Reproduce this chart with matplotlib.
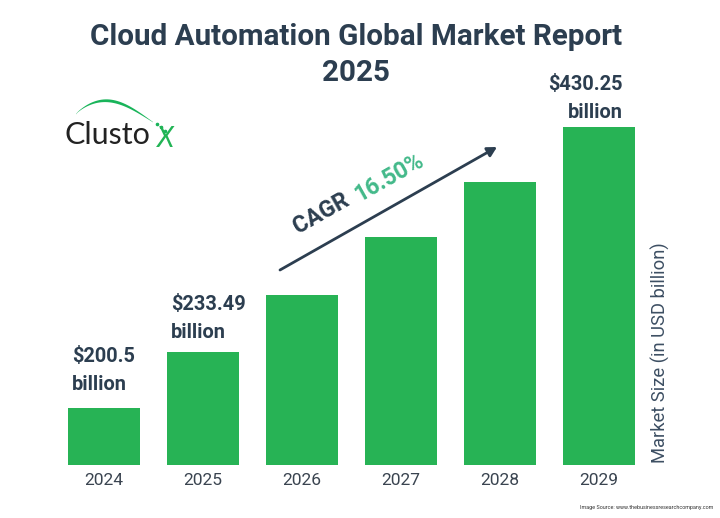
import numpy as np
import matplotlib
matplotlib.use("Agg")
import matplotlib.pyplot as plt
from matplotlib.patches import Polygon

years = ["2024", "2025", "2026", "2027", "2028", "2029"]
bar_heights = [57, 113, 170, 228, 283, 338]   # bar heights as drawn (axis is not to scale)
value_labels = {0: "$200.5\nbillion", 1: "$233.49\nbillion", 5: "$430.25\nbillion"}
label_gaps = {0: 14, 1: 10, 5: 5}
title_lines = ["Cloud Automation Global Market Report", "2025"]

NAVY = "#2c3e50"
GREEN = "#27b355"
TEAL = "#43b98a"
W, H = 720, 518

plt.rcParams["font.family"] = ["Roboto", "DejaVu Sans"]
fig = plt.figure(figsize=(W / 100, H / 100), dpi=100, facecolor="white")

# bar axes
ax = fig.add_axes([54.5 / W, (H - 465) / H, 594 / W, 365 / H])
ax.bar(range(6), bar_heights, width=0.727, color=GREEN)
ax.set_xlim(-0.5, 5.5)
ax.set_ylim(0, 365)
ax.set_xticks(range(6), years)
ax.tick_params(axis="x", length=0, pad=6, labelsize=12.5, labelcolor="#3a4450")
ax.yaxis.set_visible(False)
for s in ax.spines.values():
    s.set_visible(False)
ax.patch.set_alpha(0)

for i, lab in value_labels.items():
    right = i == 5
    ax.text(i + (0.24 if right else -0.325), bar_heights[i] + label_gaps[i], lab,
            ha="right" if right else "left", multialignment="right" if right else "left",
            va="bottom", fontsize=14.4, fontweight="bold", color=NAVY, linespacing=1.6,
            clip_on=False)

# overlay in pixels
ov = fig.add_axes([0, 0, 1, 1], facecolor="none")
ov.set_xlim(0, W)
ov.set_ylim(H, 0)
ov.axis("off")

ov.text(356, 37, title_lines[0], ha="center", va="center",
        fontsize=21.3, fontweight="bold", color=NAVY)
ov.text(356, 73, title_lines[1], ha="center", va="center",
        fontsize=21.3, fontweight="bold", color=NAVY)

ov.annotate("", xy=(497, 147), xytext=(280, 270),
            arrowprops=dict(arrowstyle="-|>,head_length=0.55,head_width=0.3", lw=2.0,
                            color=NAVY, shrinkA=0, shrinkB=0))
angle = 29.5
ov.text(321, 213, "CAGR", rotation=angle, rotation_mode="anchor", ha="center", va="center",
        fontsize=16.5, fontweight="bold", color=NAVY)
ov.text(389, 178, "16.50%", rotation=angle, rotation_mode="anchor", ha="center", va="center",
        fontsize=16.5, fontweight="bold", color=TEAL)

ov.text(660, 353, "Market Size (in USD billion)", rotation=90, ha="center", va="center",
        fontsize=13.2, color="#3d4f63")
ov.text(713, 508, "Image Source: www.thebusinessresearchcompany.com", ha="right", va="center",
        fontsize=3.85, color="#333333")

# logo
ov.text(64, 135, "Clusto", ha="left", va="center", fontsize=22, color="#222222",
        family=["Lato", "DejaVu Sans"])
ov.text(165, 139, "X", ha="center", va="center", fontsize=20, color="#22b455", style="italic",
        family=["Lato", "DejaVu Sans"])
t = np.linspace(0, 1, 40)
xa = 76 + (153 - 76) * t
top = 114 - 18 * np.sin(np.pi * t ** 0.85) + 8 * t
bot = top + 0.3 + 2.6 * np.sin(np.pi * t)
ov.add_patch(Polygon(np.r_[np.c_[xa, top], np.c_[xa, bot][::-1]], closed=True, color="#19b45a", lw=0))
ov.plot([157, 161, 165], [123.5, 127, 131], ls="none", marker="o", ms=1.6, color="#19b45a")

fig.savefig("out.png", dpi=100, facecolor="white")
